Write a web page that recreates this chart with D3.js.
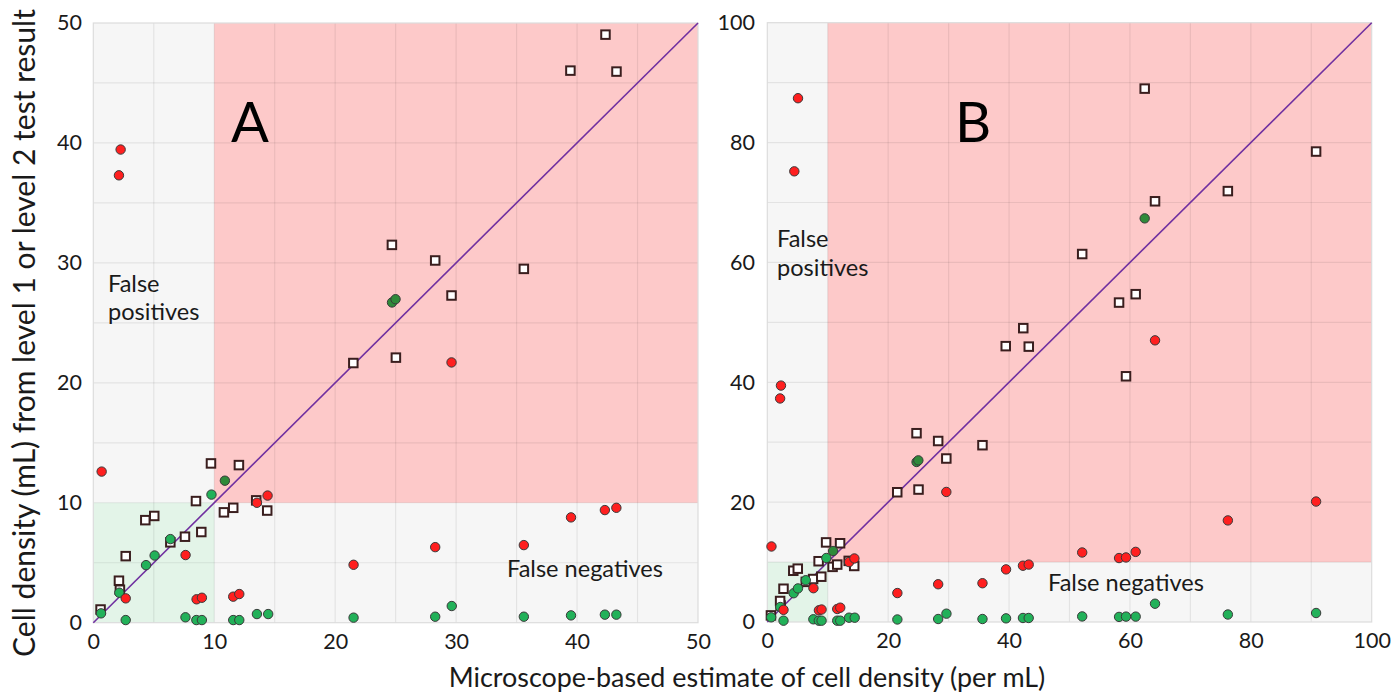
<!DOCTYPE html>
<html><head><meta charset="utf-8">
<script src="https://cdn.jsdelivr.net/npm/d3@7"></script>
<style>
body{margin:0;background:#fff}
svg{display:block}
text{font-family:Lato,"Open Sans",sans-serif;fill:#1a1a1a}
</style>
</head><body>
<svg id="chart" width="1393" height="693"></svg>
<script>
// ---------------- DATA ----------------
// Open squares
const squareX = [0.6, 2.2, 2.12, 2.68, 4.3, 5.04, 6.37, 7.58, 8.49, 8.93, 9.73, 10.8, 11.57, 12.04, 13.47, 14.38,
  21.5, 24.69, 25.02, 28.27, 29.62, 35.6, 39.45, 42.35, 43.26,
  52.1, 58.2, 59.35, 60.95, 62.44, 64.15, 76.2, 90.8];
const squareY = [1.1, 2.75, 3.5, 5.55, 8.55, 8.9, 6.7, 7.17, 10.14, 7.56, 13.28, 9.2, 9.58, 13.14, 10.2, 9.35,
  21.65, 31.5, 22.1, 30.2, 27.28, 29.5, 46.03, 49.03, 45.95,
  61.4, 53.3, 41.0, 54.7, 89.0, 70.2, 71.9, 78.5];
// Green circles
const greenX = [0.64, 2.15, 2.68, 4.36, 5.07, 6.37, 7.62, 8.52, 8.98, 9.77, 11.57, 12.07, 13.53, 14.46,
  21.52, 28.27, 29.64, 35.6, 39.5, 42.3, 43.25,
  52.1, 58.2, 59.35, 60.95, 64.15, 76.2, 90.8];
const greenY = [0.78, 2.5, 0.22, 4.8, 5.6, 6.97, 0.45, 0.22, 0.22, 10.68, 0.22, 0.22, 0.72, 0.72,
  0.42, 0.5, 1.39, 0.5, 0.61, 0.67, 0.67,
  0.93, 0.85, 0.9, 0.9, 3.05, 1.25, 1.5];
// Dark green circles
const darkGreenX = [10.88, 24.7, 24.99, 62.44];
const darkGreenY = [11.84, 26.7, 26.97, 67.35];
// Red circles
const redX = [0.69, 2.12, 2.26, 2.68, 4.47, 5.08, 7.63, 8.54, 8.98, 11.57, 12.07, 13.53, 14.41,
  21.52, 28.27, 29.62, 35.6, 39.5, 42.3, 43.25,
  52.1, 58.2, 59.35, 60.95, 64.15, 76.2, 90.8];
const redY = [12.6, 37.3, 39.45, 2.03, 75.2, 87.4, 5.64, 1.95, 2.08, 2.17, 2.39, 10.0, 10.6,
  4.83, 6.3, 21.7, 6.47, 8.78, 9.39, 9.58,
  11.6, 10.67, 10.77, 11.7, 47.0, 16.95, 20.1];

const panelNames = ["A", "B"];
const axisMax = [50, 100];
const gridStep = [5, 10];
const tickValuesA = [0, 10, 20, 30, 40, 50];
const tickValuesB = [0, 20, 40, 60, 80, 100];
const threshold = 10;
const xTitle = "Microscope-based estimate of cell density (per mL)";
const yTitle = "Cell density (mL) from level 1 or level 2 test result";
const fpLines = ["False", "positives"];
const fnLabel = "False negatives";

// ---------------- LAYOUT ----------------
const layout = [
  {left: 93.3, right: 698, top: 23, bottom: 622.7, letterX: 250, letterY: 142,
   fpX: 108, fpY: [292, 320], fnX: 507, fnY: 577, yLabelRight: 82},
  {left: 767.3, right: 1371.7, top: 22.7, bottom: 622, letterX: 973, letterY: 142,
   fpX: 777, fpY: [247, 276], fnX: 1048, fnY: 591, yLabelRight: 755}
];
const tickTexts = [tickValuesA, tickValuesB];

const svg = d3.select("#chart");
svg.append("rect").attr("width", 1393).attr("height", 693).attr("fill", "#fff");

const series = [
  {xs: squareX, ys: squareY, kind: "square"},
  {xs: greenX, ys: greenY, kind: "circle", fill: "#22b159"},
  {xs: redX, ys: redY, kind: "circle", fill: "#ff1f1f"},
  {xs: darkGreenX, ys: darkGreenY, kind: "circle", fill: "#2f8a3a"}
];

function fitFont(sel, target, base) {
  sel.style("font-size", base + "px");
  const w = sel.node().getComputedTextLength();
  sel.style("font-size", (base * target / w) + "px");
}

panelNames.forEach((name, i) => {
  const L = layout[i];
  const max = axisMax[i];
  const x = d3.scaleLinear().domain([0, max]).range([L.left, L.right]);
  const y = d3.scaleLinear().domain([0, max]).range([L.bottom, L.top]);
  const g = svg.append("g");

  const clipId = "clip" + i;
  svg.append("clipPath").attr("id", clipId).append("rect")
    .attr("x", L.left - 6).attr("y", L.top - 6)
    .attr("width", L.right - L.left + 12).attr("height", L.bottom - L.top + 12);

  // backgrounds
  g.append("rect").attr("x", x(0)).attr("y", y(max)).attr("width", x(max) - x(0)).attr("height", y(0) - y(max))
    .attr("fill", "#f6f6f6");
  g.append("rect").attr("x", x(0)).attr("y", y(threshold)).attr("width", x(threshold) - x(0)).attr("height", y(0) - y(threshold))
    .attr("fill", "#e3f4e8");
  g.append("rect").attr("x", x(threshold)).attr("y", y(max)).attr("width", x(max) - x(threshold)).attr("height", y(threshold) - y(max))
    .attr("fill", "#fdc9c9");

  // grid
  const grid = d3.range(gridStep[i], max, gridStep[i]);
  g.selectAll(".gv").data(grid).join("line")
    .attr("x1", d => x(d)).attr("x2", d => x(d)).attr("y1", y(0)).attr("y2", y(max))
    .attr("stroke", "rgba(0,0,0,0.075)").attr("stroke-width", 1.2);
  g.selectAll(".gh").data(grid).join("line")
    .attr("y1", d => y(d)).attr("y2", d => y(d)).attr("x1", x(0)).attr("x2", x(max))
    .attr("stroke", "rgba(0,0,0,0.075)").attr("stroke-width", 1.2);
  g.append("rect").attr("x", x(0)).attr("y", y(max)).attr("width", x(max) - x(0)).attr("height", y(0) - y(max))
    .attr("fill", "none").attr("stroke", "#dcdcdc").attr("stroke-width", 1.2);

  // annotations
  g.append("text").attr("x", L.letterX).attr("y", L.letterY).attr("text-anchor", "middle")
    .style("font-size", "56px").style("fill", "#000").text(name);
  fpLines.forEach((t, k) => {
    g.append("text").attr("x", L.fpX).attr("y", L.fpY[k]).style("font-size", "21px").text(t);
  });
  const fn = g.append("text").attr("x", L.fnX).attr("y", L.fnY).text(fnLabel);
  fitFont(fn, 156, 21);
  const fs = fn.style("font-size");
  g.selectAll("text").filter(function(){ return fpLines.includes(this.textContent); }).style("font-size", fs);

  // diagonal
  g.append("line").attr("x1", x(0)).attr("y1", y(0)).attr("x2", x(max)).attr("y2", y(max))
    .attr("stroke", "#7030a0").attr("stroke-width", 1.6);

  // markers
  const mg = g.append("g").attr("clip-path", `url(#${clipId})`);
  series.forEach(s => {
    const pts = s.xs.map((v, k) => [v, s.ys[k]]).filter(p => p[0] <= max && p[1] <= max);
    if (s.kind === "square") {
      const side = 8.5;
      mg.selectAll(null).data(pts).join("rect")
        .attr("x", d => x(d[0]) - side / 2).attr("y", d => y(d[1]) - side / 2)
        .attr("width", side).attr("height", side)
        .attr("fill", "#fff").attr("stroke", "#3a1e1e").attr("stroke-width", 2);
    } else {
      mg.selectAll(null).data(pts).join("circle")
        .attr("cx", d => x(d[0])).attr("cy", d => y(d[1])).attr("r", 4.7)
        .attr("fill", s.fill).attr("stroke", "#3a3a3a").attr("stroke-width", 1);
    }
  });

  // axes
  const ax = g.append("g").attr("transform", `translate(0,${L.bottom})`)
    .call(d3.axisBottom(x).tickValues(tickTexts[i]).tickSize(0).tickPadding(11).tickFormat(d3.format("d")));
  const ay = g.append("g").attr("transform", `translate(${L.yLabelRight},0)`)
    .call(d3.axisLeft(y).tickValues(tickTexts[i]).tickSize(0).tickPadding(0).tickFormat(d3.format("d")));
  [ax, ay].forEach(a => {
    a.select(".domain").remove();
    a.selectAll("text").style("font-size", "21.5px").style("font-family", "Lato, 'Open Sans', sans-serif").attr("fill", "#222");
  });
});

// axis titles
const xt = svg.append("text").attr("x", 747).attr("y", 687).attr("text-anchor", "middle").text(xTitle);
fitFont(xt, 597, 23);
const yt = svg.append("text").attr("transform", "translate(35,333) rotate(-90)").attr("text-anchor", "middle").text(yTitle);
fitFont(yt, 648, 23);
</script>
</body></html>
